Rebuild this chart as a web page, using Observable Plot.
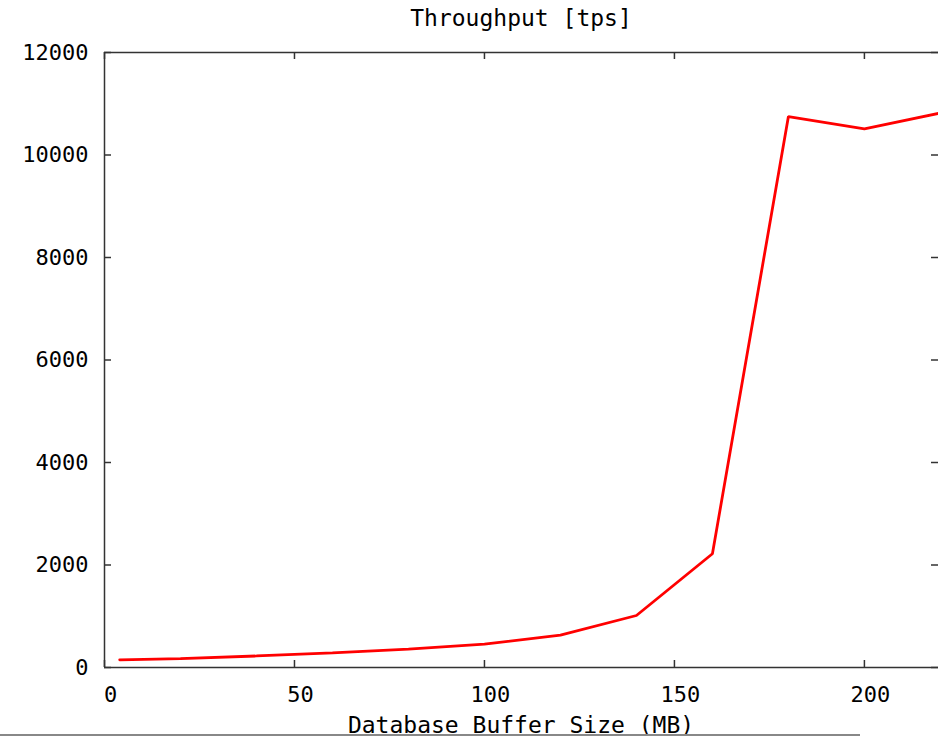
<!DOCTYPE html>
<html>
<head>
<meta charset="utf-8">
<script src="https://cdn.jsdelivr.net/npm/d3@7"></script>
<script src="https://cdn.jsdelivr.net/npm/@observablehq/plot@0.6"></script>
<style>
  html, body { margin: 0; padding: 0; background: #fff; overflow: hidden; }
  #wrap { position: relative; width: 938px; height: 737px; }
  #title { height: 36px; padding-left: 104px; box-sizing: border-box; text-align: center;
           font: 23px "DejaVu Sans Mono", monospace; line-height: 36px; color: #000; }
  #xlabel { position: absolute; left: 104px; width: 834px; top: 715px; text-align: center;
            font: 23px "DejaVu Sans Mono", monospace; line-height: 21px; color: #000; }
  #botline { position: absolute; left: 0; top: 734px; width: 860px; height: 2px; background: #888; }
</style>
</head>
<body>
<div id="wrap">
  <div id="title">Throughput [tps]</div>
  <div id="chart"></div>
  <div id="xlabel"></div>
  <div id="botline"></div>
</div>
<script>
const sizes = [4, 20, 40, 60, 80, 100, 120, 140, 160, 180, 200, 220];
const tps = [150, 175, 225, 285, 360, 455, 630, 1015, 2220, 10750, 10510, 10820];
const xTicks = [0, 50, 100, 150, 200];
const yTicks = [0, 2000, 4000, 6000, 8000, 10000, 12000];
const xLabel = "Database Buffer Size (MB)";

const data = sizes.map((s, i) => ({size: s, tps: tps[i]}));

const W = 938, H = 701, mt = 16, mb = 70, ml = 104, mr = 0;
const ph = H - mt - mb, pw = W - ml - mr;
const frameColor = "#333";

const chart = Plot.plot({
  width: W, height: H,
  marginTop: mt, marginBottom: mb, marginLeft: ml, marginRight: mr,
  style: {fontFamily: "DejaVu Sans Mono, monospace", fontSize: "22px", color: "#000", background: "#fff"},
  x: {domain: [0, 219.5]},
  y: {domain: [0, 12000]},
  marks: [
    Plot.axisX(xTicks, {anchor: "bottom", tickSize: 0, tickPadding: 19, dx: 6, tickFormat: d => String(d), label: null}),
    Plot.axisY(yTicks, {anchor: "left", tickSize: 0, tickPadding: 16, tickFormat: d => String(d), label: null}),
    // inward ticks
    Plot.ruleX(xTicks, {x: d => d, insetTop: ph - 7, stroke: frameColor, strokeWidth: 1.5}),
    Plot.ruleX(xTicks, {x: d => d, insetBottom: ph - 7, stroke: frameColor, strokeWidth: 1.5}),
    Plot.ruleY(yTicks, {y: d => d, insetRight: pw - 7, stroke: frameColor, strokeWidth: 1.5}),
    Plot.ruleY(yTicks, {y: d => d, insetLeft: pw - 7, stroke: frameColor, strokeWidth: 1.5}),
    // frame
    Plot.ruleY([0, 12000], {stroke: frameColor, strokeWidth: 1.5}),
    Plot.ruleX([0], {stroke: frameColor, strokeWidth: 1.5}),
    Plot.line(data, {x: "size", y: "tps", stroke: "#ff0000", strokeWidth: 2.8, clip: true, strokeLinejoin: "miter"})
  ]
});
document.getElementById("chart").appendChild(chart);
document.getElementById("xlabel").textContent = xLabel;
</script>
</body>
</html>
